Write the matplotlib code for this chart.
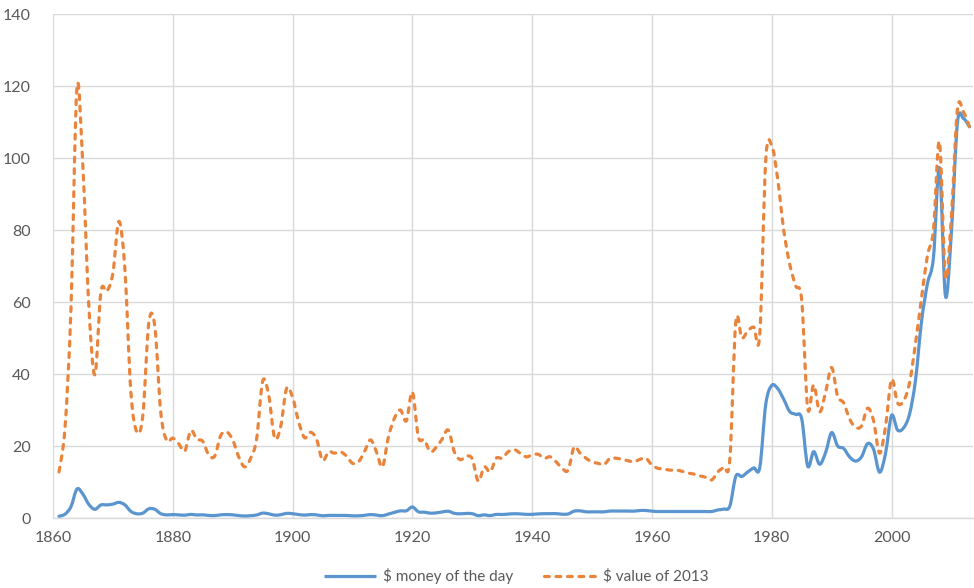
import matplotlib
matplotlib.use("Agg")
import matplotlib.pyplot as plt
from matplotlib.path import Path
from matplotlib.patches import PathPatch
from matplotlib.lines import Line2D
import numpy as np

plt.rcParams['font.family'] = ['Lato', 'DejaVu Sans']

years = list(range(1861, 2014))

money_of_day = [
    0.49, 1.05, 3.15, 8.06, 6.59, 3.74, 2.41, 3.63, 3.64, 3.86,   # 1861-1870
    4.34, 3.64, 1.83, 1.17, 1.35, 2.56, 2.42, 1.19, 0.86, 0.95,   # 1871-1880
    0.86, 0.78, 1.00, 0.84, 0.88, 0.71, 0.67, 0.88, 0.94, 0.87,   # 1881-1890
    0.67, 0.56, 0.64, 0.84, 1.36, 1.18, 0.79, 0.91, 1.29, 1.19,   # 1891-1900
    0.96, 0.80, 0.94, 0.86, 0.62, 0.73, 0.72, 0.72, 0.70, 0.61,   # 1901-1910
    0.61, 0.74, 0.95, 0.81, 0.64, 1.10, 1.56, 1.98, 2.01, 3.07,   # 1911-1920
    1.73, 1.61, 1.34, 1.43, 1.68, 1.88, 1.30, 1.17, 1.27, 1.19,   # 1921-1930
    0.65, 0.87, 0.67, 1.00, 0.97, 1.09, 1.18, 1.13, 1.02, 1.02,   # 1931-1940
    1.14, 1.19, 1.20, 1.21, 1.05, 1.12, 1.90, 1.99, 1.71, 1.71,   # 1941-1950
    1.71, 1.71, 1.93, 1.93, 1.93, 1.93, 1.90, 2.08, 2.08, 1.90,   # 1951-1960
    1.80, 1.80, 1.80, 1.80, 1.80, 1.80, 1.80, 1.80, 1.80, 1.80,   # 1961-1970
    2.24, 2.48, 3.29, 11.58, 11.53, 12.80, 13.92, 14.02, 31.61, 36.83,  # 1971-1980
    35.93, 32.97, 29.55, 28.78, 27.56, 14.43, 18.44, 14.92, 18.23, 23.73,  # 1981-1990
    20.00, 19.32, 16.97, 15.82, 17.02, 20.67, 19.09, 12.72, 17.97, 28.50,  # 1991-2000
    24.44, 25.02, 28.83, 38.27, 54.52, 65.14, 72.39, 97.26, 61.67, 79.50,  # 2001-2010
    109.8, 111.0, 108.66,                                                 # 2011-2013
]

value_2013 = [
    12.8, 25.0, 58.2, 119.6, 97.2, 58.3, 39.8, 62.8, 63.0, 68.0,   # 1861-1870
    82.4, 69.2, 35.0, 23.9, 28.5, 54.3, 53.2, 29.2, 21.5, 22.2,    # 1871-1880
    20.6, 18.6, 24.3, 21.9, 21.3, 17.5, 17.2, 22.9, 23.9, 21.7,    # 1881-1890
    17.0, 14.2, 16.6, 22.0, 38.0, 34.2, 22.3, 25.3, 36.0, 33.5,    # 1891-1900
    26.8, 22.3, 23.8, 21.9, 16.0, 18.4, 18.0, 18.4, 17.2, 15.2,    # 1901-1910
    15.6, 18.4, 21.7, 18.4, 14.2, 22.5, 27.7, 30.0, 27.0, 35.0,    # 1911-1920
    22.5, 21.7, 18.4, 19.7, 22.0, 24.4, 18.4, 16.2, 17.2, 16.4,    # 1921-1930
    10.2, 14.2, 12.8, 16.6, 16.6, 18.4, 19.0, 18.0, 17.0, 17.5,    # 1931-1940
    17.7, 16.6, 17.0, 15.6, 13.8, 13.3, 19.7, 18.0, 16.6, 15.6,    # 1941-1950
    15.2, 14.8, 16.6, 16.6, 16.3, 15.9, 15.6, 16.3, 16.6, 14.7,    # 1951-1960
    13.8, 13.6, 13.3, 13.3, 13.0, 12.5, 12.2, 11.7, 11.3, 10.6,    # 1961-1970
    12.8, 14.2, 16.3, 54.5, 50.0, 52.0, 53.0, 51.0, 99.5, 103.5,   # 1971-1980
    94.0, 80.0, 70.5, 64.5, 60.5, 30.5, 37.0, 29.5, 35.0, 41.8,    # 1981-1990
    33.8, 32.0, 27.5, 25.2, 25.6, 30.5, 27.0, 18.0, 25.5, 38.5,    # 1991-2000
    32.0, 32.5, 37.5, 48.5, 61.0, 73.0, 80.0, 104.5, 67.0, 84.0,   # 2001-2010
    113.5, 112.8, 108.7,                                          # 2011-2013
]

series_labels = ["$ money of the day", "$ value of 2013"]
x_ticks = [1860, 1880, 1900, 1920, 1940, 1960, 1980, 2000]
y_ticks = [0, 20, 40, 60, 80, 100, 120, 140]

blue = "#5B95CF"
orange = "#E9843C"
text_color = "#595959"
grid_color = "#D9D9D9"


def smooth_path(xs, ys):
    """Excel-style smoothed line: cubic Bezier segments (Catmull-Rom control points)."""
    p = np.column_stack([np.asarray(xs, float), np.asarray(ys, float)])
    n = len(p)
    verts = [p[0]]
    codes = [Path.MOVETO]
    for i in range(n - 1):
        p0 = p[i - 1] if i > 0 else p[i]
        p1 = p[i]
        p2 = p[i + 1]
        p3 = p[i + 2] if i + 2 < n else p[i + 1]
        c1 = p1 + (p2 - p0) / 6.0
        c2 = p2 - (p3 - p1) / 6.0
        verts += [c1, c2, p2]
        codes += [Path.CURVE4] * 3
    return Path(np.array(verts), codes)


fig = plt.figure(figsize=(9.74, 5.88), dpi=100)
ax = fig.add_axes([53/974, (588-518)/588, (973-53)/974, 504/588])

lw = 2.3
blue_patch = PathPatch(smooth_path(years, money_of_day), facecolor='none',
                       edgecolor=blue, lw=lw, joinstyle='round', capstyle='round', zorder=3)
ax.add_patch(blue_patch)
orange_patch = PathPatch(smooth_path(years, value_2013), facecolor='none',
                         edgecolor=orange, lw=lw, linestyle=(0, (1.5, 2.1)),
                         joinstyle='round', capstyle='round', zorder=4)
ax.add_patch(orange_patch)

ax.set_xlim(1860, 2013.6)
ax.set_ylim(0, 140)
ax.set_xticks(x_ticks)
ax.set_yticks(y_ticks)
ax.grid(True, color=grid_color, lw=1.0, zorder=0)
ax.set_axisbelow(True)
for s in ['top', 'right', 'left']:
    ax.spines[s].set_visible(False)
ax.spines['bottom'].set_color(grid_color)
ax.spines['bottom'].set_linewidth(1.0)
ax.tick_params(axis='both', length=0, labelsize=11.5, colors=text_color)
ax.tick_params(axis='y', pad=16)
ax.tick_params(axis='x', pad=9)

handles = [
    Line2D([], [], color=blue, lw=lw, solid_capstyle='butt'),
    Line2D([], [], color=orange, lw=lw, dashes=(1.5, 2.1), dash_capstyle='round'),
]
leg = fig.legend(handles, series_labels, loc='center', bbox_to_anchor=(0.53, 12/588),
                 ncol=2, frameon=False, fontsize=11, handlelength=3.4,
                 columnspacing=2.0, handletextpad=0.45)
for t in leg.get_texts():
    t.set_color(text_color)

fig.savefig("out.png", dpi=100)
